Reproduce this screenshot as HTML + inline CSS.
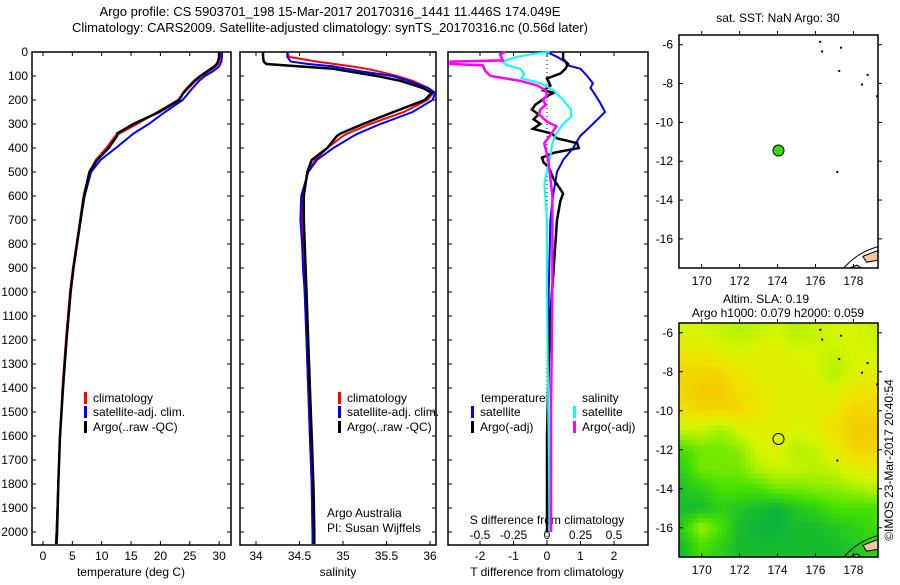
<!DOCTYPE html>
<html><head><meta charset="utf-8"><style>
body{margin:0;background:#fff;}
svg text{font-family:"Liberation Sans",sans-serif;fill:#000;}
</style></head><body>
<svg id="fig" width="900" height="580" viewBox="0 0 900 580" xmlns="http://www.w3.org/2000/svg"></svg>
<script>
// ---------- data ----------
const depthProf=[0,20,40,50,60,70,80,100,120,150,170,200,250,300,340,350,400,450,500,600,700,800,900,1000,1200,1400,1600,1800,2000,2050];
const argoT=[30,30,29.8,29.6,29.2,28.6,28.0,26.8,25.8,24.6,23.9,23.2,19.8,15.4,12.6,12.6,11.2,9.2,7.9,7.0,6.4,5.8,5.2,4.7,4.0,3.4,2.9,2.6,2.4,2.3];
const climT=[30.2,30.2,30.0,29.8,29.4,28.9,28.3,27.0,26.0,24.8,24.0,23.0,19.5,16.0,13.0,12.3,10.8,9.0,7.9,6.9,6.3,5.7,5.1,4.6,3.9,3.3,2.9,2.6,2.3,2.2];
const satT=[30.5,30.5,30.4,30.2,30.0,29.5,29.0,27.6,26.6,25.5,24.8,23.8,20.8,18.0,15.4,14.9,12.4,9.8,8.2,7.1,6.4,5.8,5.2,4.7,4.0,3.4,2.9,2.6,2.3,2.2];
const argoS=[34.08,34.08,34.09,34.12,34.5,34.89,35.05,35.39,35.66,35.92,36.02,35.94,35.58,35.23,34.97,34.93,34.82,34.64,34.59,34.55,34.55,34.56,34.57,34.58,34.6,34.62,34.64,34.66,34.67,34.67];
const climS=[34.36,34.38,34.7,34.9,35.1,35.27,35.4,35.62,35.8,35.98,36.04,35.97,35.7,35.31,35.05,35.0,34.82,34.68,34.6,34.53,34.53,34.54,34.55,34.56,34.58,34.6,34.62,34.64,34.65,34.65];
const satS=[34.36,34.36,34.4,34.6,34.89,35.05,35.2,35.57,35.75,35.98,36.06,36.03,35.8,35.43,35.17,35.12,34.89,34.7,34.6,34.52,34.51,34.53,34.54,34.56,34.58,34.6,34.62,34.64,34.65,34.65];
const tSatDepth=[0,20,40,55,70,100,130,150,170,210,250,300,350,400,450,500,600,700,1000,1500,2000];
const tSatDiff=[0,0.3,0.54,0.6,1.0,1.2,1.37,1.3,1.4,1.58,1.73,1.37,0.99,0.78,0.48,0.3,0.18,0.1,0.05,0.03,0.0];
const tArgoDepth=[0,30,50,70,90,110,140,160,170,180,220,240,260,280,300,320,340,360,380,400,420,440,460,480,530,570,590,620,700,900,1100,1300,1600,2000];
const tArgoDiff=[0.48,0.48,0.63,0.55,0.4,0,0.1,-0.1,0.2,0.05,-0.35,-0.45,-0.25,-0.4,-0.2,-0.42,0.15,0.3,0.9,0.95,0.2,-0.15,-0.1,0.05,0.2,0.39,0.48,0.4,0.3,0.2,0.1,0.05,0.0,0.0];
const sSatDepth=[0,5,20,40,55,70,90,110,130,160,200,240,270,300,340,380,420,470,550,700,1000,1500,2000];
const sSatDiff=[0.02,-0.07,-0.22,-0.34,-0.3,-0.2,-0.17,-0.19,-0.05,0.05,0.12,0.18,0.18,0.12,0.07,0.04,0.03,0.01,-0.02,0.0,0.0,0.01,0.02];
const sArgoDepth=[0,10,35,40,50,55,80,100,120,140,160,180,200,220,240,260,290,310,350,380,450,600,1000,1500,2000];
const sArgoDiff=[-0.31,-0.35,-0.33,-0.72,-0.72,-0.48,-0.46,-0.42,-0.2,-0.07,-0.01,0,-0.03,-0.01,-0.05,-0.06,0,0.07,0.02,-0.02,0.01,0.04,0.04,0.03,0.03];
const depthTicks=[0,100,200,300,400,500,600,700,800,900,1000,1100,1200,1300,1400,1500,1600,1700,1800,1900,2000];
const tempTicks=[0,5,10,15,20,25,30];
const salTicks=[34,34.5,35,35.5,36];
const tDiffTicks=[-2,-1,0,1,2];
const sDiffTicks=[-0.5,-0.25,0,0.25,0.5];
const sDiffLabels=["-0.5","-0.25","0","0.25","0.5"];
const lonTicks=[170,172,174,176,178];
const latTicks=[-6,-8,-10,-12,-14,-16];
const argoLon=174.05, argoLat=-11.45;
const slaLats=[-6,-7,-8,-9,-10,-11,-12,-13,-14,-15,-16,-17];
const slaLons=[169,170,171,172,173,174,175,176,177,178,179];
const slaGrid=[
[0.65,0.65,0.6,0.55,0.6,0.65,0.55,0.6,0.65,0.65,0.6],
[0.75,0.75,0.7,0.65,0.7,0.7,0.65,0.65,0.6,0.65,0.65],
[0.85,0.85,0.85,0.75,0.7,0.7,0.7,0.65,0.55,0.65,0.7],
[0.85,0.9,0.9,0.8,0.75,0.7,0.7,0.7,0.65,0.75,0.8],
[0.8,0.85,0.85,0.85,0.75,0.7,0.7,0.7,0.75,0.85,0.85],
[0.6,0.6,0.5,0.65,0.7,0.7,0.65,0.7,0.8,0.9,0.9],
[0.3,0.4,0.4,0.45,0.65,0.7,0.55,0.6,0.7,0.85,0.85],
[0.2,0.4,0.4,0.4,0.55,0.6,0.6,0.55,0.6,0.7,0.75],
[0.15,0.2,0.3,0.3,0.3,0.4,0.4,0.45,0.45,0.5,0.55],
[0.1,0.1,0.2,0.15,0.1,0.05,0.15,0.2,0.3,0.3,0.3],
[0.2,0.5,0.3,0.1,0.05,0.05,0.1,0.1,0.15,0.2,0.25],
[0.1,0.3,0.2,0.1,0.1,0.1,0.1,0.1,0.1,0.15,0.2]];

// ---------- helpers ----------
const NS="http://www.w3.org/2000/svg";
const svg=document.getElementById('fig');
function el(tag,attrs,parent){const e=document.createElementNS(NS,tag);for(const k in attrs)e.setAttribute(k,attrs[k]);(parent||svg).appendChild(e);return e;}
function txt(x,y,s,anchor,size,name,parent){const t=el('text',{x:x,y:y,'text-anchor':anchor||'start','font-size':size||12},parent);t.textContent=s;


return t;}
const Y0=52, PXD=0.24;
const yD=d=>Y0+d*PXD;
const PT={x0:32,x1:231}, PS={x0:240,x1:436}, PD={x0:448,x1:648};
const PY1=545;
const xT=v=>43+v*5.87, xS=v=>256+(v-34)*87, xTD=v=>547+v*33.5, xSD=v=>547+v*134;

function frame(p,name){const r=el('rect',{x:p.x0,y:Y0,width:p.x1-p.x0,height:PY1-Y0,fill:'none',stroke:'#000','stroke-width':1.5});

}
function line(depths,vals,fx,color,name,w){const pts=depths.map((d,i)=>fx(vals[i]).toFixed(1)+','+Math.min(PY1,yD(d)).toFixed(1)).join(' ');
const l=el('polyline',{points:pts,fill:'none',stroke:color,'stroke-width':w||2,'stroke-linejoin':'miter'});

}

txt(330,16,"Argo profile: CS 5903701_198 15-Mar-2017 20170316_1441 11.446S 174.049E","middle",13,"figure-title-line1");
txt(330,32,"Climatology: CARS2009. Satellite-adjusted climatology: synTS_20170316.nc (0.56d later)","middle",13,"figure-title-line2");

[[PT,'temperature-panel-frame'],[PS,'salinity-panel-frame'],[PD,'difference-panel-frame']].forEach(([p,n])=>frame(p,n));
depthTicks.forEach(d=>{
  txt(28,yD(d)+4,String(d),"end",12,"depth-tick-label");
  [PT,PS,PD].forEach(p=>{el('line',{x1:p.x0,x2:p.x0+4,y1:yD(d),y2:yD(d),stroke:'#000'});el('line',{x1:p.x1-4,x2:p.x1,y1:yD(d),y2:yD(d),stroke:'#000'});});
});
tempTicks.forEach(v=>{el('line',{x1:xT(v),x2:xT(v),y1:PY1-4,y2:PY1,stroke:'#000'});el('line',{x1:xT(v),x2:xT(v),y1:Y0,y2:Y0+4,stroke:'#000'});txt(xT(v),560,String(v),"middle",12,"temperature-tick-label");});
salTicks.forEach(v=>{el('line',{x1:xS(v),x2:xS(v),y1:PY1-4,y2:PY1,stroke:'#000'});el('line',{x1:xS(v),x2:xS(v),y1:Y0,y2:Y0+4,stroke:'#000'});txt(xS(v),560,String(v),"middle",12,"salinity-tick-label");});
tDiffTicks.forEach(v=>{el('line',{x1:xTD(v),x2:xTD(v),y1:PY1-4,y2:PY1,stroke:'#000'});el('line',{x1:xTD(v),x2:xTD(v),y1:Y0,y2:Y0+4,stroke:'#000'});txt(xTD(v),560,String(v),"middle",12,"t-diff-tick-label");});
sDiffTicks.forEach((v,i)=>{txt(xSD(v),539,sDiffLabels[i],"middle",12,"s-diff-tick-label");});
txt(131,576,"temperature (deg C)","middle",12,"temperature-axis-title");
txt(338,576,"salinity","middle",12,"salinity-axis-title");
txt(547,576,"T difference from climatology","middle",12,"t-diff-axis-title");
txt(547,524,"S difference from climatology","middle",12,"s-diff-axis-title");

const z=el('line',{x1:xTD(0),x2:xTD(0),y1:Y0,y2:PY1,stroke:'#000','stroke-dasharray':'1,3'});



line(depthProf,climT,xT,'#f00','temperature-climatology-line');
line(depthProf,satT,xT,'#00f','temperature-satellite-line');
line(depthProf,argoT,xT,'#000','temperature-argo-line',2.5);
line(depthProf,climS,xS,'#f00','salinity-climatology-line');
line(depthProf,satS,xS,'#00f','salinity-satellite-line');
line(depthProf,argoS,xS,'#000','salinity-argo-line',2.5);
line(tSatDepth,tSatDiff,xTD,'#00f','t-satellite-diff-line');
line(tArgoDepth,tArgoDiff,xTD,'#000','t-argo-diff-line',2.5);
line(sSatDepth,sSatDiff,xSD,'#0ff','s-satellite-diff-line');
line(sArgoDepth,sArgoDiff,xSD,'#f0f','s-argo-diff-line',2.5);

function leg(x,y,color,label,name){const r=el('rect',{x:x,y:y-10,width:3,height:12,fill:color});


txt(x+9,y,label,"start",12,name);}
leg(84,402,'#f00','climatology','legend-climatology');
leg(84,416,'#00f','satellite-adj. clim.','legend-satellite-adj');
leg(84,431,'#000','Argo(..raw -QC)','legend-argo');
leg(338,402,'#f00','climatology','legend2-climatology');
leg(338,416,'#00f','satellite-adj. clim.','legend2-satellite-adj');
leg(338,431,'#000','Argo(..raw -QC)','legend2-argo');
txt(481,402,"temperature","start",12,"legend-temperature-header");
txt(582,402,"salinity","start",12,"legend-salinity-header");
leg(471,416,'#00f','satellite','legend-t-satellite');
leg(471,431,'#000','Argo(-adj)','legend-t-argo');
leg(573,416,'#0ff','satellite','legend-s-satellite');
leg(573,431,'#f0f','Argo(-adj)','legend-s-argo');
txt(327,517,"Argo Australia","start",12,"credit-argo-australia");
txt(327,532,"PI: Susan Wijffels","start",12,"credit-pi");

// ---------- maps ----------
const MX0=679,MX1=878,LON0=168.8,LON1=179.3;
const xL=l=>MX0+(l-LON0)*(MX1-MX0)/(LON1-LON0);
function slaAt(lo,la){
  let c=Math.max(0,Math.min(slaLons.length-1.001,lo-slaLons[0]));
  let r=Math.max(0,Math.min(slaLats.length-1.001,slaLats[0]-la));
  const c0=Math.floor(c),r0=Math.floor(r),fc=c-c0,fr=r-r0;
  const g=slaGrid;
  return g[r0][c0]*(1-fc)*(1-fr)+g[r0][c0+1]*fc*(1-fr)+g[r0+1][c0]*(1-fc)*fr+g[r0+1][c0+1]*fc*fr;
}
function map(top,bot,name,heat){
  const yL=la=>top+(-5.5-la)*(bot-top)/12;
  const g=el('g',{});
  
  
  if(heat){
    const stops=[[0,[0,170,70]],[0.3,[70,225,0]],[0.5,[160,240,0]],[0.65,[215,245,0]],[0.8,[240,225,0]],[1,[245,180,0]]];
    const cm=v=>{for(let i=1;i<stops.length;i++){if(v<=stops[i][0]){const a=stops[i-1],b=stops[i],t=(v-a[0])/(b[0]-a[0]);return 'rgb('+a[1].map((c,k)=>Math.round(c+(b[1][k]-c)*t)).join(',')+')';}}return 'rgb(245,180,0)';};
    const step=0.25;
    for(let la=-5.5;la>-17.5;la-=step){
      for(let lo=LON0;lo<LON1;lo+=step){
        const x0=xL(lo),x1=Math.min(MX1,xL(lo+step)),y0=yL(la),y1=Math.min(bot,yL(la-step));
        const cell=el('rect',{x:x0,y:y0,width:x1-x0+0.6,height:y1-y0+0.6,fill:cm(slaAt(lo+step/2,la-step/2))},g);
        
        
      }
    }
  }
  const land=el('path',{d:`M${xL(178.5)},${yL(-16.9)} L${MX1},${yL(-16.6)} L${MX1},${yL(-17.1)} L${xL(178.7)},${yL(-17.2)} Z M${xL(177.8)},${yL(-17.5)} L${xL(178.2)},${yL(-17.35)} L${xL(178.4)},${yL(-17.5)} Z`,fill:'#f5c79a',stroke:'#000','stroke-width':1},g);
  
  
  el('path',{d:`M${xL(177.5)},${bot} Q${xL(178.2)},${yL(-16.7)} ${MX1},${yL(-16.4)}`,fill:'none',stroke:'#000','stroke-width':1},g);
  [[176.3,-6.3],[177.3,-6.1],[177.2,-7.3],[178.4,-8.0],[178.7,-7.5],[179.2,-8.6],[177.1,-12.5],[176.2,-5.8]].forEach(p=>el('rect',{x:xL(p[0]),y:yL(p[1]),width:2,height:2,fill:'#000'},g));
  el('rect',{x:MX0,y:top,width:MX1-MX0,height:bot-top,fill:'none',stroke:'#000','stroke-width':1.5},g);
  lonTicks.forEach(l=>{el('line',{x1:xL(l),x2:xL(l),y1:bot-4,y2:bot,stroke:'#000'},g);el('line',{x1:xL(l),x2:xL(l),y1:top,y2:top-4,stroke:'#000'},g);txt(xL(l),bot+17,String(l),"middle",12,"longitude-tick-label",g);});
  latTicks.forEach(l=>{el('line',{x1:MX0,x2:MX0+4,y1:yL(l),y2:yL(l),stroke:'#000'},g);el('line',{x1:MX1,x2:MX1+4,y1:yL(l),y2:yL(l),stroke:'#000'},g);txt(MX0-6,yL(l)+4,String(l),"end",12,"latitude-tick-label",g);});
  const c=el('circle',{cx:xL(argoLon),cy:yL(argoLat),r:5.5,fill:heat?'none':'#33dd00',stroke:'#000','stroke-width':1},g);
  
  
}
map(35,268,'sst-map',false);
map(323,557,'sla-map',true);
txt(778,22,"sat. SST: NaN Argo: 30","middle",12,"sst-map-title");
txt(766,303,"Altim. SLA: 0.19","middle",12,"sla-map-title");
txt(778,317,"Argo h1000: 0.079 h2000: 0.059","middle",12,"sla-map-subtitle");
const cr=txt(0,0,"©IMOS 23-Mar-2017 20:40:54","middle",12,"timestamp-credit");
cr.setAttribute('transform','translate(893,460) rotate(-90)');
</script>
</body></html>
